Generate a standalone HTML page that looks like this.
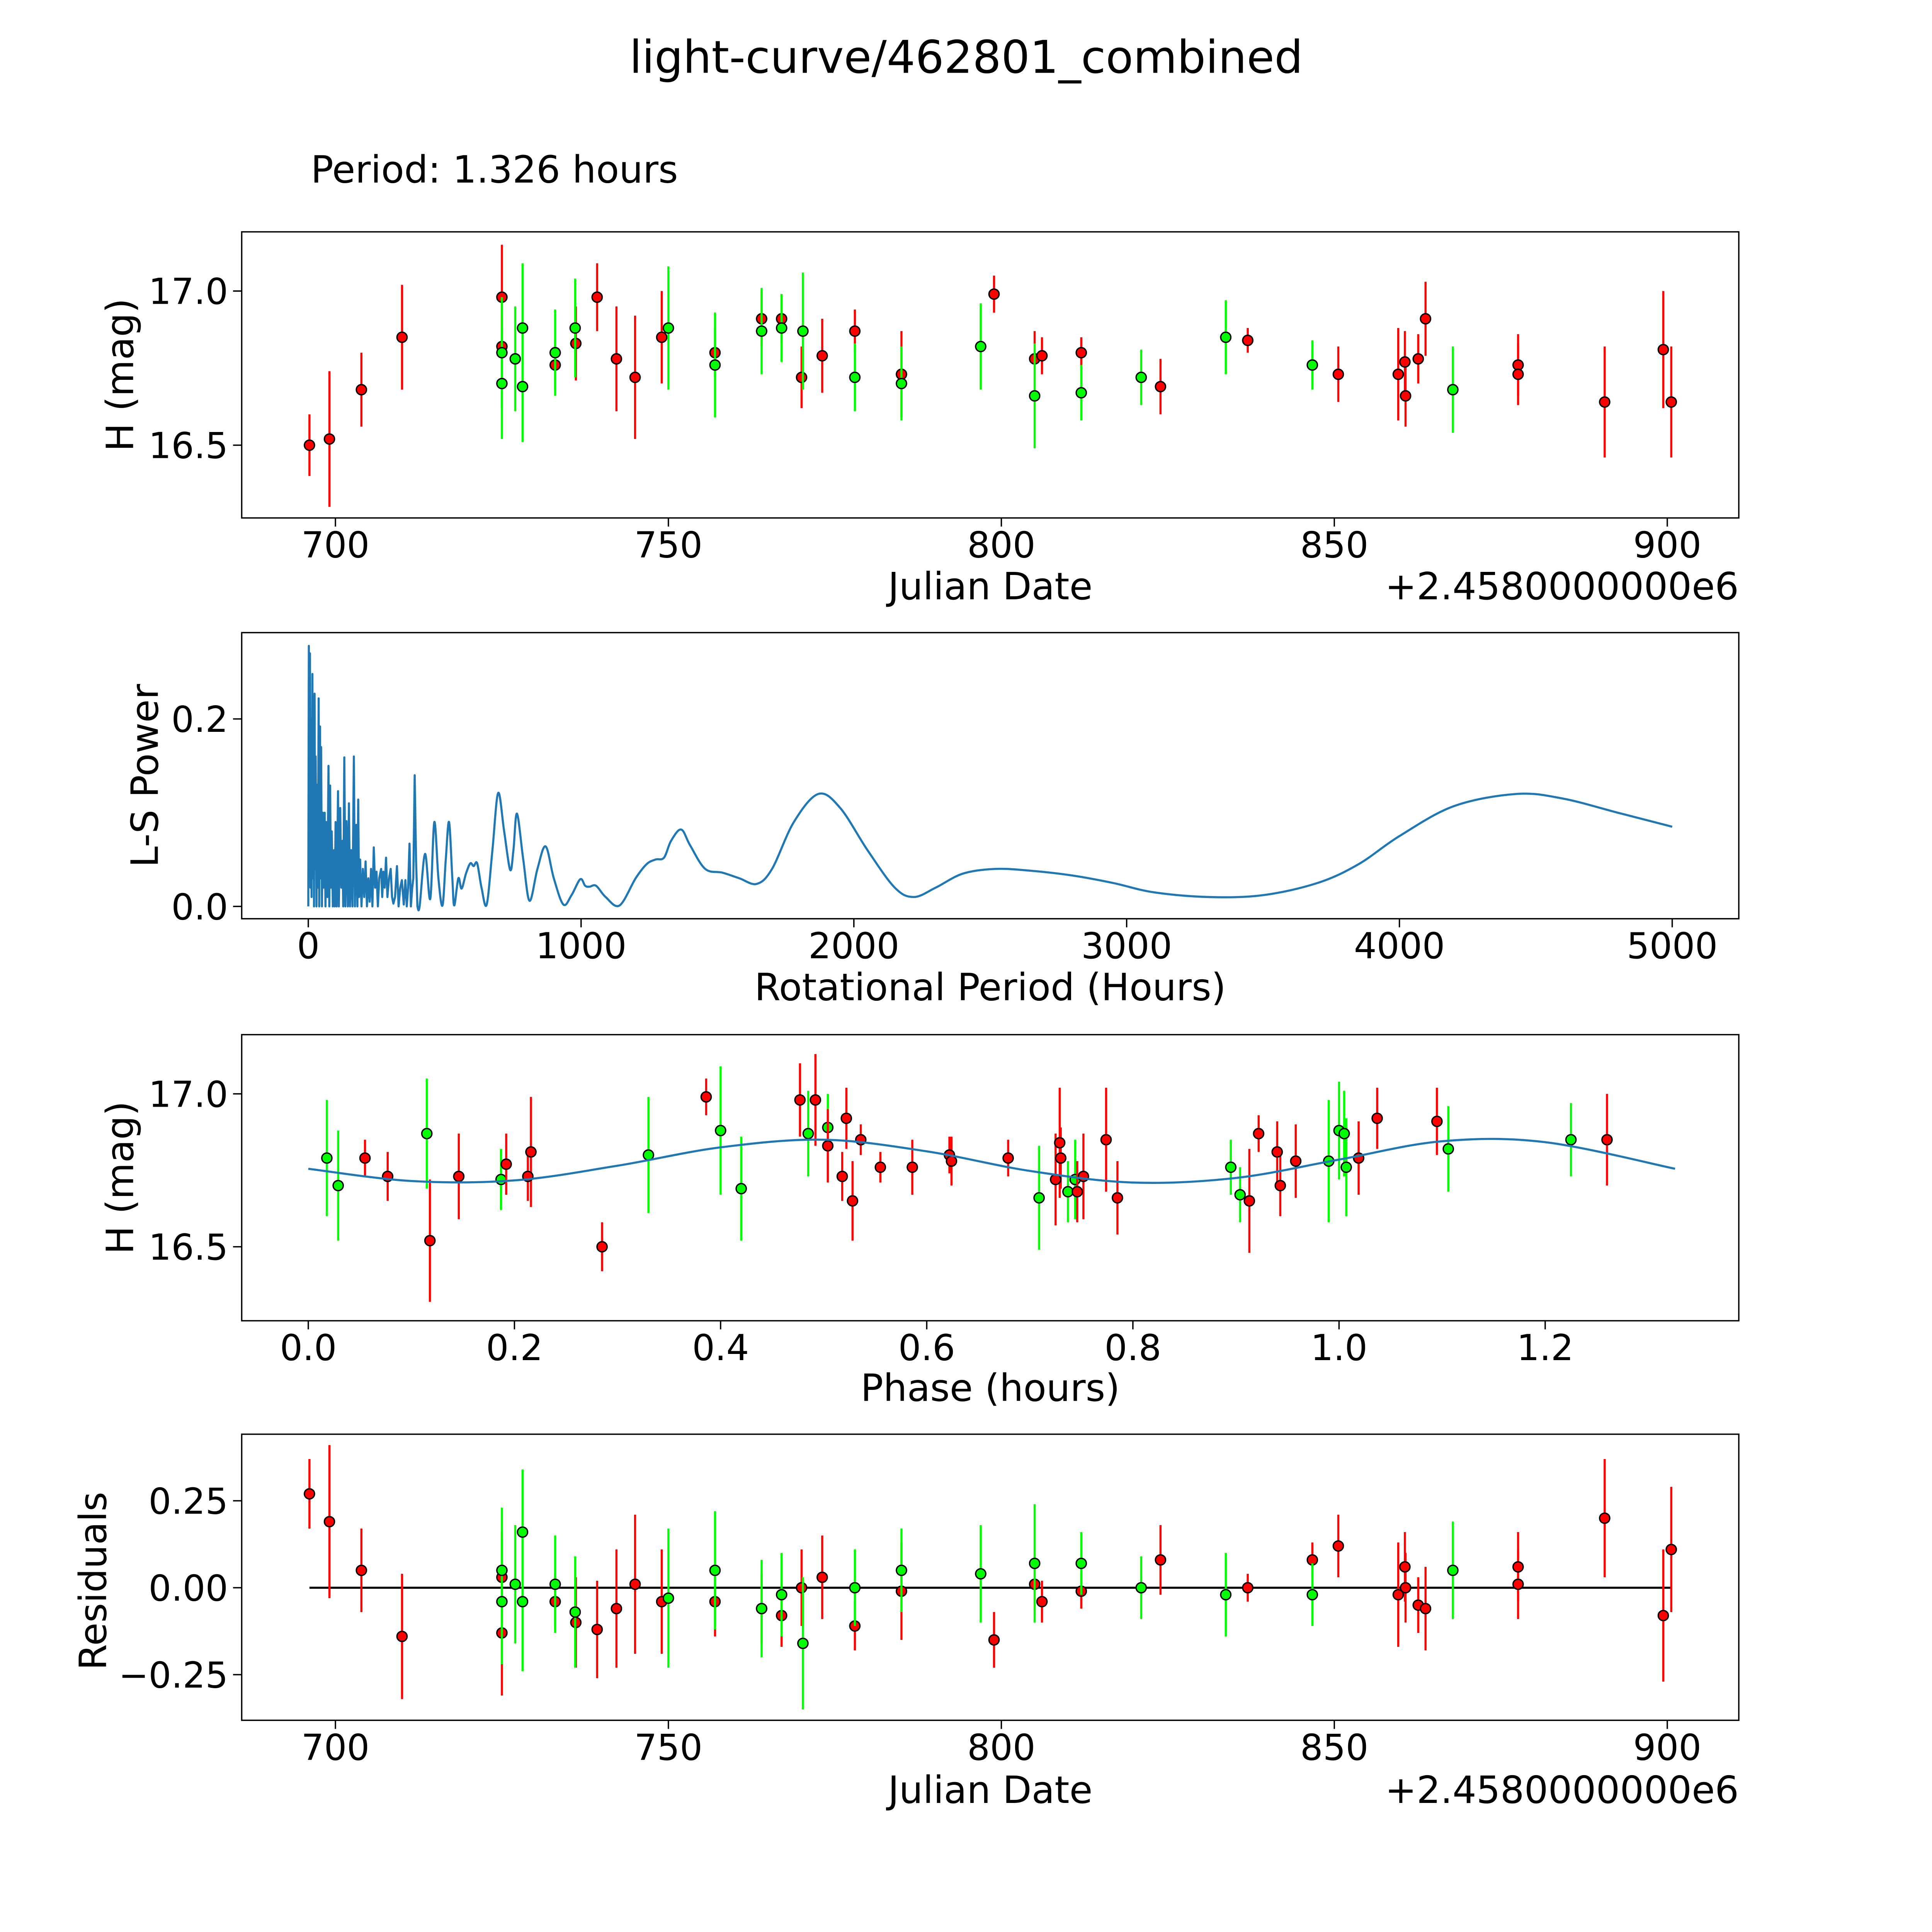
<!DOCTYPE html>
<html><head><meta charset="utf-8"><title>light-curve/462801_combined</title>
<style>html,body{margin:0;padding:0;background:#fff;overflow:hidden;width:5400px;height:5400px}svg{display:block}</style></head>
<body>
<svg id="fig" xmlns="http://www.w3.org/2000/svg" width="5400" height="5400" viewBox="0 0 1692 1692" font-family="DejaVu Sans, Liberation Sans, sans-serif">
<rect width="1692" height="1692" fill="#fff"/>
<text x="783.5" y="59" font-size="36.5" text-anchor="middle">light-curve/462801_combined</text>
<text x="252" y="148" font-size="30.5">Period: 1.326 hours</text>
</svg>
<script>
// ---------- data: panel 1 (light curve) ----------
const redDates = [696.1,699.1,703.9,710,725,725,733,736.1,739.3,742.2,745,749,757,764,767,770,773.1,778,785,798.9,805,806.1,812,823.9,837,846.7,850.6,859.6,860.6,860.7,862.6,863.7,877.6,877.6,890.6,899.4,900.6];
const redMags  = [16.50,16.52,16.68,16.85,16.98,16.82,16.76,16.83,16.98,16.78,16.72,16.85,16.80,16.91,16.91,16.72,16.79,16.87,16.73,16.99,16.78,16.79,16.80,16.69,16.84,16.76,16.73,16.73,16.77,16.66,16.78,16.91,16.76,16.73,16.64,16.81,16.64];
const redErrs  = [0.1,0.22,0.12,0.17,0.17,0.1,0.08,0.12,0.11,0.17,0.2,0.15,0.08,0.09,0.08,0.1,0.12,0.07,0.14,0.06,0.09,0.06,0.05,0.09,0.04,0.05,0.09,0.15,0.1,0.1,0.08,0.12,0.1,0.1,0.18,0.19,0.18];
const greenDates = [725,725,727,728.1,728.1,733,736,750,757,764,767,770.2,778,785,796.9,805,812,821,833.7,846.7,867.8];
const greenMags  = [16.80,16.70,16.78,16.88,16.69,16.80,16.88,16.88,16.76,16.87,16.88,16.87,16.72,16.70,16.82,16.66,16.67,16.72,16.85,16.76,16.68];
const greenErrs  = [0.18,0.18,0.17,0.21,0.18,0.14,0.16,0.2,0.17,0.14,0.11,0.19,0.11,0.12,0.14,0.17,0.09,0.09,0.12,0.08,0.14];
// ---------- data: panel 2 (periodogram) ----------
const periods = [
  0,2,4,6,8,10,12,15,17,19,
  21,23,25,27,30,33,35,38,40,43,
  45,47,50,53,56,60,63,66,70,74,
  77,80,83,86,90,94,97,100,104,109,
  112,117,121,125,128,132,136,140,145,149,
  153,157,162,167,171,176,180,183,186,190,
  195,200,205,210,215,220,225,230,235,240,
  245,250,255,260,267,271,275,280,285,290,
  296,302,307,312,318,325,331,337,343,350,
  356,361,366,371,376,381,385,390,395,400,
  408,428,447,462,477,492,504,516,528,535,
  550,562,578,594,606,619,635,654,675,696,
  718,740,752,765,788,811,840,870,900,935,
  965,997,1015,1031,1055,1090,1141,1200,1240,1273,
  1304,1330,1367,1400,1455,1518,1580,1644,1700,1780,
  1870,1950,2050,2150,2220,2300,2400,2520,2650,2800,
  2950,3100,3300,3500,3700,3850,4000,4200,4430,4600,
  4800,5000];
const powers = [
  0,0.278,0.05,0.27,0.02,0.2,0.01,0.248,0.03,0.17,
  0.0,0.227,0.04,0.16,0.0,0.13,0.02,0.222,0.0,0.192,
  0.03,0.17,0.0,0.1,0.02,0.1,0.0,0.09,0.01,0.15,
  0.0,0.129,0.02,0.08,0.0,0.06,0.0,0.09,0.0,0.123,
  0.0,0.105,0.02,0.07,0.0,0.159,0.0,0.091,0.0,0.11,
  0.0,0.06,0.0,0.16,0.0,0.087,0.0,0.114,0.01,0.05,
  0.0,0.04,0.01,0.048,0.0,0.03,0.005,0.04,0.0,0.063,
  0.02,0.037,0.0,0.03,0.04,0.01,0.037,0.02,0.052,0.01,
  0.03,0.04,0.01,0.003,0.01,0.043,0.0,0.02,0.028,0.002,
  0.028,0.0,0.02,0.067,0.0,0.02,0.03,0.14,0.05,0.0,
  0.0,0.056,0.008,0.09,0.03,0.001,0.05,0.09,0.03,0.001,
  0.03,0.019,0.035,0.046,0.043,0.046,0.02,0.002,0.06,0.121,
  0.08,0.039,0.06,0.099,0.05,0.006,0.04,0.064,0.03,0.002,
  0.012,0.029,0.022,0.021,0.022,0.01,0.001,0.03,0.045,0.05,
  0.052,0.07,0.082,0.065,0.04,0.036,0.03,0.024,0.04,0.09,
  0.12,0.105,0.06,0.02,0.01,0.02,0.035,0.04,0.038,0.033,
  0.025,0.015,0.01,0.012,0.025,0.045,0.075,0.107,0.12,0.115,
  0.1,0.085];
// ---------- data: panel 3 (phased) ----------
const redPhases = [0.055,0.077,0.118,0.146,0.192,0.213,0.216,0.285,0.386,0.477,0.492,0.504,0.518,0.522,0.528,0.536,0.555,0.586,0.622,0.624,0.679,0.725,0.729,0.730,0.746,0.752,0.774,0.785,0.913,0.922,0.940,0.943,0.958,1.019,1.037,1.095,1.26];
const redPhaseMags = [16.79,16.73,16.52,16.73,16.77,16.73,16.81,16.50,16.99,16.98,16.98,16.83,16.73,16.92,16.65,16.85,16.76,16.76,16.80,16.78,16.79,16.72,16.84,16.79,16.68,16.73,16.85,16.66,16.65,16.87,16.81,16.70,16.78,16.79,16.92,16.91,16.85];
const redPhaseErrs = [0.06,0.08,0.2,0.14,0.1,0.08,0.18,0.08,0.06,0.12,0.15,0.12,0.08,0.1,0.13,0.05,0.05,0.09,0.06,0.08,0.06,0.15,0.18,0.1,0.1,0.14,0.17,0.12,0.17,0.06,0.1,0.1,0.12,0.12,0.1,0.11,0.15];
const greenPhases = [0.018,0.029,0.115,0.187,0.33,0.40,0.42,0.485,0.504,0.709,0.737,0.744,0.895,0.904,0.99,1.0,1.005,1.007,1.106,1.225];
const greenPhaseMags = [16.79,16.70,16.87,16.72,16.80,16.88,16.69,16.87,16.89,16.66,16.68,16.72,16.76,16.67,16.78,16.88,16.87,16.76,16.82,16.85];
const greenPhaseErrs = [0.19,0.18,0.18,0.1,0.19,0.21,0.17,0.14,0.11,0.17,0.1,0.13,0.09,0.09,0.2,0.16,0.14,0.16,0.14,0.12];
const modelPhases = [0,0.1,0.2,0.3,0.4,0.5,0.6,0.7,0.8,0.9,1.0,1.1,1.2,1.326];
const modelMags = [16.755,16.715,16.717,16.765,16.825,16.85,16.812,16.748,16.71,16.725,16.785,16.845,16.842,16.755];
// ---------- data: panel 4 (residuals) ----------
const redResid = [0.27,0.19,0.05,-0.14,0.03,-0.13,-0.04,-0.10,-0.12,-0.06,0.01,-0.04,-0.04,-0.06,-0.08,0.0,0.03,-0.11,-0.01,-0.15,0.01,-0.04,-0.01,0.08,0.0,0.08,0.12,-0.02,0.06,0.0,-0.05,-0.06,0.06,0.01,0.20,-0.08,0.11];
const redResidErrs = [0.1,0.22,0.12,0.18,0.13,0.18,0.08,0.13,0.14,0.17,0.2,0.15,0.1,0.1,0.09,0.11,0.12,0.07,0.14,0.08,0.09,0.06,0.05,0.1,0.04,0.05,0.09,0.15,0.1,0.1,0.08,0.12,0.1,0.1,0.17,0.19,0.18];
const greenResid = [0.05,-0.04,0.01,0.16,-0.04,0.01,-0.07,-0.03,0.05,-0.06,-0.02,-0.16,0.0,0.05,0.04,0.07,0.07,0.0,-0.02,-0.02,0.05];
const greenResidErrs = [0.18,0.18,0.17,0.18,0.2,0.14,0.16,0.2,0.17,0.14,0.12,0.19,0.11,0.12,0.14,0.17,0.09,0.09,0.12,0.09,0.14];
// tick labels
const dateTicks = [700,750,800,850,900];
const magTicks = [16.5,17.0];
const powerTicks = [0.0,0.2];
const periodTicks = [0,1000,2000,3000,4000,5000];
const phaseTicks = [0.0,0.2,0.4,0.6,0.8,1.0,1.2];
const residTicks = [-0.25,0.0,0.25];

const NS = 'http://www.w3.org/2000/svg';
const svg = document.getElementById('fig');
function mk(tag, attrs, parent){ const e=document.createElementNS(NS,tag); for(const k in attrs) e.setAttribute(k,attrs[k]); (parent||svg).appendChild(e); return e; }
function lin(d0,d1,r0,r1){ return v => r0 + (v-d0)*(r1-r0)/(d1-d0); }

const L=196, R=1410, H=232;
const tops=[188,513,839,1163];
const TF=29, LF=30.5;

function axesFrame(top, name){
  const g = mk('g',{});
  
  
  const r = mk('rect',{x:L,y:top,width:R-L,height:H,fill:'none',stroke:'#000','stroke-width':1.1},g);
  
  
  return g;
}
function xTicks(g, top, ticks, sx, fmt, name){
  ticks.forEach(t=>{
    const x=sx(t);
    mk('line',{x1:x,x2:x,y1:top+H,y2:top+H+7,stroke:'#000','stroke-width':1.1},g);
    const tx = mk('text',{x:x,y:top+H+32,'font-size':TF,'text-anchor':'middle'},g);
    tx.textContent = fmt(t);
    
    
  });
}
function yTicks(g, top, ticks, sy, fmt, name){
  ticks.forEach(t=>{
    const y=sy(t);
    mk('line',{x1:L-7,x2:L,y1:y,y2:y,stroke:'#000','stroke-width':1.1},g);
    const tx = mk('text',{x:L-11,y:y+10.5,'font-size':TF,'text-anchor':'end'},g);
    tx.textContent = fmt(t);
    
    
  });
}
function label(g, x, y, txt, name, rot){
  const t = mk('text',{x:x,y:y,'font-size':LF,'text-anchor':'middle'},g);
  if(rot) t.setAttribute('transform','rotate(-90 '+x+' '+y+')');
  t.textContent = txt;
  
  
}
function errPoints(g, xs, ys, es, sx, sy, color, name){
  xs.forEach((xv,i)=>{
    const x=sx(xv);
    const l = mk('line',{x1:x,x2:x,y1:sy(ys[i]+es[i]),y2:sy(ys[i]-es[i]),stroke:color,'stroke-width':1.7},g);
    
    
  });
  xs.forEach((xv,i)=>{
    const c = mk('circle',{cx:sx(xv),cy:sy(ys[i]),r:4.1,fill:color,stroke:'#000','stroke-width':1.1},g);
    
    
  });
}
function smoothSegs(pts){
  let d='';
  for(let i=0;i<pts.length-1;i++){
    const p0=pts[Math.max(0,i-1)],p1=pts[i],p2=pts[i+1],p3=pts[Math.min(pts.length-1,i+2)];
    const c1=[p1[0]+(p2[0]-p0[0])/6,p1[1]+(p2[1]-p0[1])/6];
    const c2=[p2[0]-(p3[0]-p1[0])/6,p2[1]-(p3[1]-p1[1])/6];
    d+=' C'+c1[0]+','+c1[1]+' '+c2[0]+','+c2[1]+' '+p2[0]+','+p2[1];
  }
  return d;
}
const dateFmt = t=>String(t);

// ---- Panel 1 ----
{
  const top=tops[0];
  const g=axesFrame(top,'light-curve-axes');
  const sx=lin(700,900,272,1352), sy=lin(16.5,17.0,361,236);
  xTicks(g,top,dateTicks,sx,dateFmt,'julian-date');
  yTicks(g,top,magTicks,sy,t=>t.toFixed(1),'magnitude');
  errPoints(g,redDates,redMags,redErrs,sx,sy,'#ff0000','red-filter');
  errPoints(g,greenDates,greenMags,greenErrs,sx,sy,'#00ff00','green-filter');
  label(g,803,486,'Julian Date','x-axis-title');
  const off=mk('text',{x:R,y:486,'font-size':LF,'text-anchor':'end'},g);
  off.textContent='+2.4580000000e6';
  
  
  label(g,108,304,'H (mag)','y-axis-title',true);
}
// ---- Panel 2 ----
{
  const top=tops[1];
  const g=axesFrame(top,'periodogram-axes');
  const sx=lin(0,5000,250,1356), sy=lin(0,0.2,735,583);
  xTicks(g,top,periodTicks,sx,dateFmt,'period');
  yTicks(g,top,powerTicks,sy,t=>t.toFixed(1),'power');
  const n=Math.min(periods.length,powers.length);
  const pts=[];
  for(let i=0;i<n;i++) pts.push([sx(periods[i]),sy(powers[i])]);
  let split=periods.findIndex(p=>p>=400);
  if(split<0||split>=n) split=n-1;
  let d='M'+pts[0][0]+','+pts[0][1];
  for(let i=1;i<=split;i++) d+=' L'+pts[i][0]+','+pts[i][1];
  d+=smoothSegs(pts.slice(split));
  const path=mk('path',{d:d,fill:'none',stroke:'#1f77b4','stroke-width':1.7,'stroke-linejoin':'round'},g);
  
  
  label(g,803,811,'Rotational Period (Hours)','x-axis-title');
  label(g,128,629,'L-S Power','y-axis-title',true);
}
// ---- Panel 3 ----
{
  const top=tops[2];
  const g=axesFrame(top,'phase-axes');
  const sx=lin(0,1.2,250,1253), sy=lin(16.5,17.0,1011,887);
  xTicks(g,top,phaseTicks,sx,t=>t.toFixed(1),'phase');
  yTicks(g,top,magTicks,sy,t=>t.toFixed(1),'magnitude');
  errPoints(g,greenPhases,greenPhaseMags,greenPhaseErrs,sx,sy,'#00ff00','green-phased');
  errPoints(g,redPhases,redPhaseMags,redPhaseErrs,sx,sy,'#ff0000','red-phased');
  const mpts=modelPhases.map((p,i)=>[sx(p),sy(modelMags[i])]);
  const mp=mk('path',{d:'M'+mpts[0][0]+','+mpts[0][1]+smoothSegs(mpts),fill:'none',stroke:'#1f77b4','stroke-width':1.7},g);
  
  
  label(g,803,1136,'Phase (hours)','x-axis-title');
  label(g,108,955,'H (mag)','y-axis-title',true);
}
// ---- Panel 4 ----
{
  const top=tops[3];
  const g=axesFrame(top,'residuals-axes');
  const sx=lin(700,900,272,1352), sy=lin(-0.25,0.25,1358,1217);
  xTicks(g,top,dateTicks,sx,dateFmt,'julian-date');
  yTicks(g,top,residTicks,sy,t=>t.toFixed(2).replace('-','\u2212'),'residual');
  const zl=mk('line',{x1:sx(Math.min(...redDates)),x2:sx(Math.max(...redDates)),y1:sy(0),y2:sy(0),stroke:'#000','stroke-width':1.7},g);
  
  
  errPoints(g,redDates,redResid,redResidErrs,sx,sy,'#ff0000','red-residual');
  errPoints(g,greenDates,greenResid,greenResidErrs,sx,sy,'#00ff00','green-residual');
  label(g,803,1462,'Julian Date','x-axis-title');
  const off=mk('text',{x:R,y:1462,'font-size':LF,'text-anchor':'end'},g);
  off.textContent='+2.4580000000e6';
  
  
  label(g,86,1282,'Residuals','y-axis-title',true);
}
</script>
</body></html>
